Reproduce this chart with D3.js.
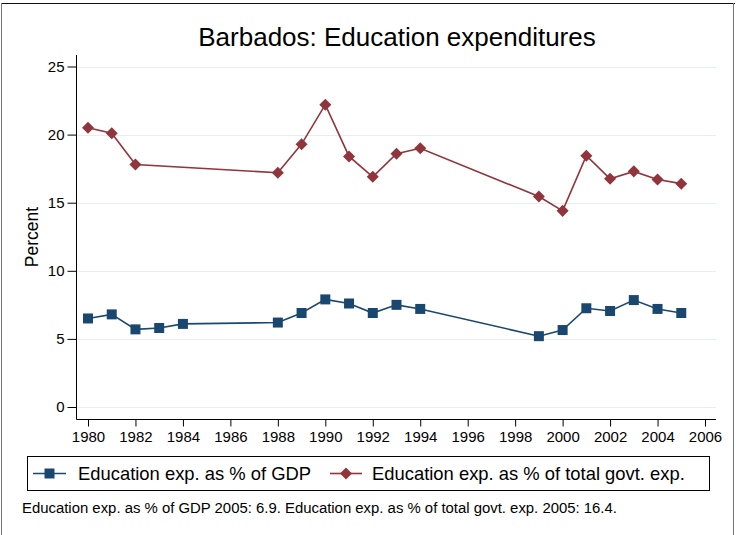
<!DOCTYPE html>
<html><head><meta charset="utf-8">
<script src="https://cdn.jsdelivr.net/npm/d3@7"></script>
<style>body{margin:0;background:#fff}svg{display:block}text{font-family:"Liberation Sans",Arial,sans-serif;fill:#000}</style>
</head><body><svg id="c" width="736" height="535"></svg>
<script>
const years = [1980,1981,1982,1983,1984,1988,1989,1990,1991,1992,1993,1994,1999,2000,2001,2002,2003,2004,2005];
const gdpShare = [6.5,6.8,5.7,5.8,6.1,6.2,6.9,7.9,7.6,6.9,7.5,7.2,5.2,5.65,7.25,7.05,7.85,7.2,6.9];
const govYears = [1980,1981,1982,1988,1989,1990,1991,1992,1993,1994,1999,2000,2001,2002,2003,2004,2005];
const govShare = [20.5,20.1,17.8,17.2,19.3,22.2,18.4,16.9,18.6,19.0,15.45,14.4,18.45,16.75,17.3,16.7,16.4];
const xTicks = [1980,1982,1984,1986,1988,1990,1992,1994,1996,1998,2000,2002,2004,2006];
const yTicks = [0,5,10,15,20,25];
const seriesNames = ["Education exp. as % of GDP","Education exp. as % of total govt. exp."];
const titleText = "Barbados: Education expenditures";
const noteText = "Education exp. as % of GDP 2005: 6.9. Education exp. as % of total govt. exp. 2005: 16.4.";
const colors = ["#1a476f","#90353b"];

const svg = d3.select("#c");
// frame
svg.append("line").attr("x1",1).attr("x2",735).attr("y1",3.5).attr("y2",3.5).attr("stroke","#111").attr("stroke-width",1.2);
svg.append("line").attr("x1",1.5).attr("x2",1.5).attr("y1",3).attr("y2",535).attr("stroke","#777");
svg.append("line").attr("x1",733.5).attr("x2",733.5).attr("y1",3).attr("y2",535).attr("stroke","#777");

const x = d3.scaleLinear().domain([1980,2006]).range([88,705]);
const y = d3.scaleLinear().domain([0,25]).range([407,66.5]);
const plotL = 76.5, plotR = 716, plotB = 419.5, plotT = 55;

// grid
svg.append("g").selectAll("line").data(yTicks).join("line")
  .attr("x1",plotL+1).attr("x2",plotR).attr("y1",d=>Math.round(y(d))+0.5).attr("y2",d=>Math.round(y(d))+0.5)
  .attr("stroke","#e6eef1").attr("stroke-width",1.2);

// y axis
const ya = svg.append("g").attr("transform",`translate(${plotL},0)`)
  .call(d3.axisLeft(y).tickValues(yTicks).tickSize(9).tickPadding(3).tickFormat(d3.format("d")));
ya.select(".domain").remove();
ya.selectAll("line").attr("stroke","#000");
ya.selectAll("text").style("font-size","15px").attr("font-family","Liberation Sans, Arial");
svg.append("line").attr("x1",plotL).attr("x2",plotL).attr("y1",plotT).attr("y2",plotB).attr("stroke","#000");

// x axis
const xa = svg.append("g").attr("transform",`translate(0,${plotB})`)
  .call(d3.axisBottom(x).tickValues(xTicks).tickSize(7).tickPadding(5).tickFormat(d3.format("d")));
xa.select(".domain").remove();
xa.selectAll("line").attr("stroke","#000");
xa.selectAll("text").style("font-size","15px").attr("font-family","Liberation Sans, Arial");
svg.append("line").attr("x1",plotL).attr("x2",plotR).attr("y1",plotB).attr("y2",plotB).attr("stroke","#000");

// lines
const gdpData = years.map((yr,i)=>({x:yr,y:gdpShare[i]}));
const govData = govYears.map((yr,i)=>({x:yr,y:govShare[i]}));
const line = d3.line().x(d=>x(d.x)).y(d=>y(d.y));
svg.append("path").datum(govData).attr("d",line).attr("fill","none").attr("stroke",colors[1]).attr("stroke-width",1.6);
svg.append("path").datum(gdpData).attr("d",line).attr("fill","none").attr("stroke",colors[0]).attr("stroke-width",1.6);
const sq = d3.symbol().type(d3.symbolSquare).size(100);
const dm = d3.symbol().type(d3.symbolDiamond2).size(92);
svg.append("g").selectAll("path").data(govData).join("path")
  .attr("transform",d=>`translate(${x(d.x)},${y(d.y)})`).attr("d",dm).attr("fill",colors[1]);
svg.append("g").selectAll("path").data(gdpData).join("path")
  .attr("transform",d=>`translate(${x(d.x)},${y(d.y)})`).attr("d",sq).attr("fill",colors[0]);

// title
svg.append("text").attr("x",397).attr("y",46).attr("text-anchor","middle").style("font-size","26px").text(titleText);
// y label
svg.append("text").attr("transform","translate(38,237) rotate(-90)").attr("text-anchor","middle").style("font-size","17.5px").text("Percent");

// legend
svg.append("rect").attr("x",27.5).attr("y",456.5).attr("width",682).attr("height",34).attr("fill","#fff").attr("stroke","#000");
const legX = [[33,66,78],[330,362,372]];
seriesNames.forEach((nm,i)=>{
  const [a,b,t] = legX[i];
  svg.append("line").attr("x1",a).attr("x2",b).attr("y1",473.5).attr("y2",473.5).attr("stroke",colors[i]).attr("stroke-width",1.6);
  svg.append("path").attr("transform",`translate(${(a+b)/2},473.5)`).attr("d",i===0?sq:dm).attr("fill",colors[i]);
  svg.append("text").attr("x",t).attr("y",480).style("font-size","18.4px").text(nm);
});
// note
svg.append("text").attr("x",22).attr("y",513).style("font-size","14.9px").text(noteText);
</script></body></html>
